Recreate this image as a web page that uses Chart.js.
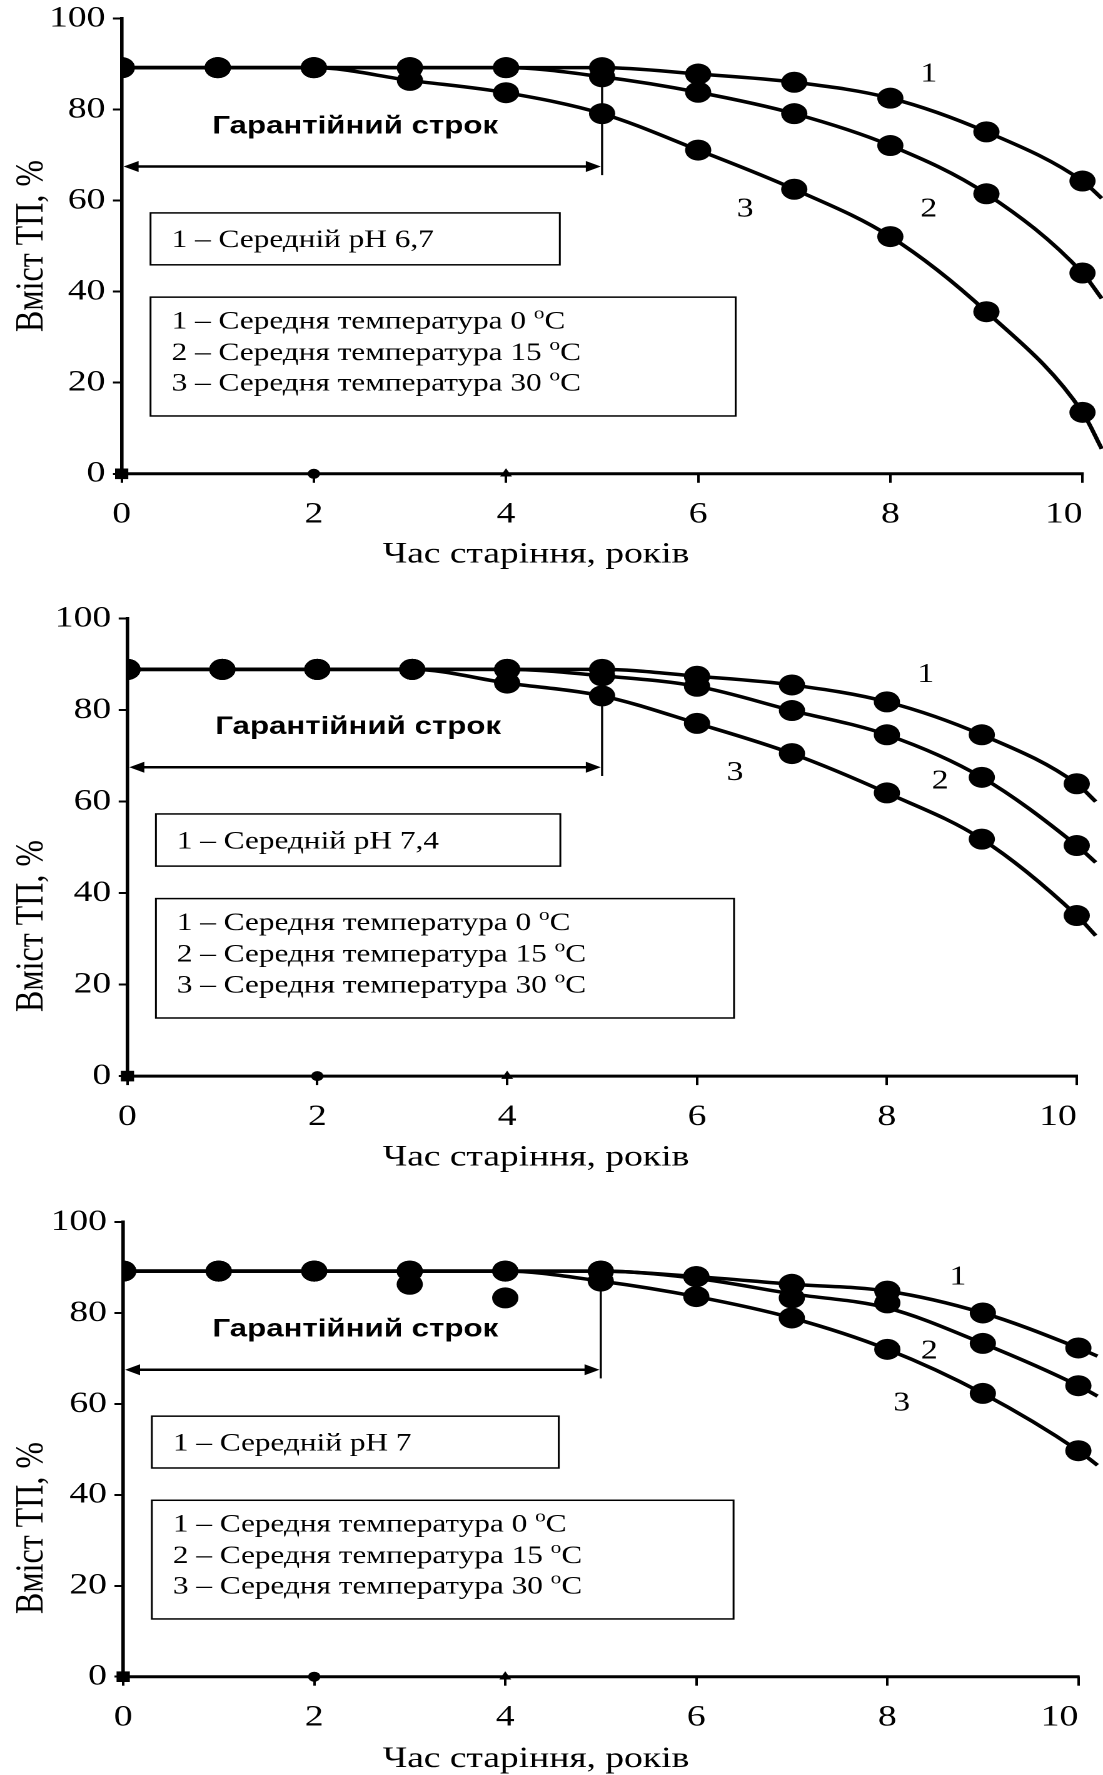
<!DOCTYPE html>
<html lang="uk">
<head>
<meta charset="utf-8">
<title>Вміст ТП залежно від часу старіння</title>
<script src="https://cdn.jsdelivr.net/npm/chart.js@4.4.1/dist/chart.umd.min.js"></script>
<style>
  html, body { margin: 0; padding: 0; background: #ffffff; }
  body { position: relative; width: 1103px; height: 1775px; overflow: hidden; }
  .panel { position: absolute; left: 0; width: 882px; transform-origin: 0 0; transform: scaleX(1.250567); }
  .panel canvas { display: block; }
</style>
</head>
<body>
<div class="panel" style="top:0px;height:600px"><canvas id="chartPh67" width="882" height="600"></canvas></div>
<div class="panel" style="top:600px;height:600px"><canvas id="chartPh74" width="882" height="600"></canvas></div>
<div class="panel" style="top:1202px;height:580px"><canvas id="chartPh7" width="882" height="580"></canvas></div>
<script>
// Storage time, years
const years = [0, 1, 2, 3, 4, 5, 6, 7, 8, 9, 10];
// Points along the fitted curves (the last one runs just past year 10)
const curveYears = [0, 1, 2, 3, 4, 5, 6, 7, 8, 9, 10, 10.2];

const xTicks = [0, 2, 4, 6, 8, 10];
const yTicks = [0, 20, 40, 60, 80, 100];
const xTitle = 'Час старіння, років';
const yTitle = 'Вміст ТП, %';
const periodLabel = 'Гарантійний строк';
const periodYears = 5;
const tempLevels = [0, 15, 30];
const curveNames = ['1', '2', '3'];
const phLevels = ['6,7', '7,4', '7'];
// small axis markers sitting on the zero line
const zeroMarkYears = [0, 2, 4];

// ---- pH 6,7 ----
const ph67_t0  = [89.2, 89.2, 89.2, 89.2, 89.2, 89.2, 87.8, 86.0, 82.5, 75.1, 64.3];
const ph67_t15 = [89.2, 89.2, 89.2, 89.2, 89.2, 87.2, 83.8, 79.1, 72.1, 61.5, 44.1];
const ph67_t30 = [89.2, 89.2, 89.2, 86.4, 83.7, 79.1, 71.1, 62.5, 52.1, 35.6, 13.5];
const ph67_fit0  = [89.2, 89.2, 89.2, 89.2, 89.2, 89.2, 87.8, 86.0, 82.5, 75.1, 64.3, 60.5];
const ph67_fit15 = [89.2, 89.2, 89.2, 89.2, 89.2, 87.2, 83.8, 79.1, 72.1, 61.5, 44.1, 38.5];
const ph67_fit30 = [89.2, 89.2, 89.2, 86.4, 83.7, 79.1, 71.1, 62.5, 52.1, 35.6, 13.5, 5.5];

// ---- pH 7,4 ----
const ph74_t0  = [88.9, 88.9, 88.9, 88.9, 88.9, 88.9, 87.4, 85.5, 81.8, 74.6, 63.9];
const ph74_t15 = [88.9, 88.9, 88.9, 88.9, 88.9, 87.5, 85.2, 79.9, 74.6, 65.3, 50.4];
const ph74_t30 = [88.9, 88.9, 88.9, 88.9, 85.9, 83.1, 77.1, 70.5, 61.9, 51.8, 35.1];
const ph74_fit0  = [88.9, 88.9, 88.9, 88.9, 88.9, 88.9, 87.4, 85.5, 81.8, 74.6, 63.9, 60.0];
const ph74_fit15 = [88.9, 88.9, 88.9, 88.9, 88.9, 87.5, 85.2, 79.9, 74.6, 65.3, 50.4, 46.7];
const ph74_fit30 = [88.9, 88.9, 88.9, 88.9, 85.9, 83.1, 77.1, 70.5, 61.9, 51.8, 35.1, 30.7];

// ---- pH 7 ----
const ph7_t0  = [89.2, 89.2, 89.2, 89.2, 89.2, 89.2, 88.0, 86.3, 84.8, 80.0, 72.3];
const ph7_t15 = [89.2, 89.2, 89.2, 89.2, 89.2, 89.2, 88.0, 83.3, 82.2, 73.3, 64.0];
const ph7_t30 = [89.2, 89.2, 89.2, 86.3, 83.3, 87.0, 83.6, 78.9, 72.0, 62.3, 49.7];
const ph7_fit0  = [89.2, 89.2, 89.2, 89.2, 89.2, 89.2, 88.0, 86.3, 84.8, 80.0, 72.3, 70.5];
const ph7_fit15 = [89.2, 89.2, 89.2, 89.2, 89.2, 89.2, 87.6, 84.2, 81.1, 73.3, 64.0, 61.7];
const ph7_fit30 = [89.2, 89.2, 89.2, 89.2, 89.2, 87.0, 83.6, 78.9, 72.0, 62.3, 49.7, 46.5];

const SERIF = "'Liberation Serif', 'Times New Roman', serif";
const SANS = "'Liberation Sans', Arial, sans-serif";
Chart.defaults.font.family = SERIF;
Chart.defaults.color = '#000';

const W = 882;          // logical canvas width (stretched to the page width by CSS)
const TICK_FONT = 30;
const XTITLE_FONT = 30;
const YTITLE_FONT = 32;

const panels = [
  { canvas: 'chartPh67', H: 600, x0: 97.3, x10: 865.6, y100: 18.5, y0: 473.8, xTitleY: 554.5, yTitleY: 246,
    ph: phLevels[0], series: [ph67_t0, ph67_t15, ph67_t30], fits: [ph67_fit0, ph67_fit15, ph67_fit30],
    numPos: [[8.40, 87.7], [8.40, 58.1], [6.49, 58.1]] },
  { canvas: 'chartPh74', H: 600, x0: 101.9, x10: 861.0, y100: 18.6, y0: 476.1, xTitleY: 557.4, yTitleY: 326,
    ph: phLevels[1], series: [ph74_t0, ph74_t15, ph74_t30], fits: [ph74_fit0, ph74_fit15, ph74_fit30],
    numPos: [[8.41, 87.7], [8.56, 64.4], [6.40, 66.3]] },
  { canvas: 'chartPh7', H: 580, x0: 98.5, x10: 862.3, y100: 20, y0: 474.7, xTitleY: 557, yTitleY: 326,
    ph: phLevels[2], series: [ph7_t0, ph7_t15, ph7_t30], fits: [ph7_fit0, ph7_fit15, ph7_fit30],
    numPos: [[8.74, 87.8], [8.44, 71.5], [8.15, 60.1]] }
];

function toPoints(xs, ys) { return ys.map((y, i) => ({ x: xs[i], y })); }

function arrowHead(ctx, tipX, tipY, dir) {
  ctx.beginPath();
  ctx.moveTo(tipX, tipY);
  ctx.lineTo(tipX + dir * 12, tipY - 5.5);
  ctx.lineTo(tipX + dir * 12, tipY + 5.5);
  ctx.closePath();
  ctx.fill();
}

// legend line with a raised "o" before C
function drawTempLine(ctx, x, yMid, name, temp) {
  const size = 25;
  const base = yMid + size * 0.33;
  ctx.textBaseline = 'alphabetic';
  ctx.textAlign = 'left';
  ctx.font = `${size}px ${SERIF}`;
  const main = `${name} – Середня температура ${temp} `;
  ctx.fillText(main, x, base);
  let cx = x + ctx.measureText(main).width;
  ctx.font = `17px ${SERIF}`;
  ctx.fillText('o', cx, base - size * 0.4);
  cx += ctx.measureText('o').width;
  ctx.font = `${size}px ${SERIF}`;
  ctx.fillText('C', cx, base);
}

function makeDecor(P) {
  return {
    id: 'decor',
    beforeDatasetsDraw(chart) {
      const { ctx, scales: { x, y } } = chart;
      const px = v => x.getPixelForValue(v);
      const py = v => y.getPixelForValue(v);
      ctx.save();
      ctx.strokeStyle = '#000';
      ctx.fillStyle = '#000';
      // horizontal axis line, origin to year 10
      ctx.lineWidth = 3;
      ctx.beginPath();
      ctx.moveTo(px(0), py(0));
      ctx.lineTo(px(xTicks[xTicks.length - 1]) + 1, py(0));
      ctx.stroke();
      // guarantee period arrow
      const ay = py(67.5), ax0 = px(0) + 1.5, ax1 = px(periodYears) - 1;
      ctx.lineWidth = 2.5;
      ctx.beginPath();
      ctx.moveTo(ax0 + 6, ay);
      ctx.lineTo(ax1 - 6, ay);
      ctx.stroke();
      arrowHead(ctx, ax0, ay, 1);
      arrowHead(ctx, ax1, ay, -1);
      ctx.lineWidth = 1.7;
      ctx.beginPath();
      ctx.moveTo(px(periodYears), py(88));
      ctx.lineTo(px(periodYears), py(65.6));
      ctx.stroke();
      // legend boxes
      ctx.lineWidth = 1.5;
      ctx.strokeRect(px(0.30), py(57.3), px(4.56) - px(0.30), py(45.9) - py(57.3));
      ctx.strokeRect(px(0.30), py(38.8), px(6.39) - px(0.30), py(12.7) - py(38.8));
      ctx.restore();
    },
    afterDatasetsDraw(chart) {
      const { ctx, scales: { x, y } } = chart;
      const px = v => x.getPixelForValue(v);
      const py = v => y.getPixelForValue(v);
      ctx.save();
      ctx.fillStyle = '#000';
      // period caption
      ctx.font = `bold 25px ${SANS}`;
      ctx.textAlign = 'center';
      ctx.textBaseline = 'middle';
      ctx.fillText(periodLabel, px(2.43), py(76.3));
      // curve numbers
      ctx.font = `27px ${SERIF}`;
      P.numPos.forEach((p, i) => ctx.fillText(curveNames[i], px(p[0]), py(p[1])));
      // axis titles
      ctx.font = `${XTITLE_FONT}px ${SERIF}`;
      ctx.fillText(xTitle, 428.6, P.xTitleY);
      ctx.save();
      ctx.translate(25.6, P.yTitleY);
      ctx.rotate(-Math.PI / 2);
      ctx.font = `${YTITLE_FONT}px ${SERIF}`;
      ctx.fillText(yTitle, 0, 0);
      ctx.restore();
      // pH box
      ctx.font = `25px ${SERIF}`;
      ctx.textAlign = 'left';
      ctx.textBaseline = 'alphabetic';
      ctx.fillText(`1 – Середній pH ${P.ph}`, px(0.52), py(51.6) + 25 * 0.33);
      // temperature box
      const rows = [33.7, 26.8, 20.1];
      tempLevels.forEach((t, i) => drawTempLine(ctx, px(0.52), py(rows[i]), curveNames[i], t));
      ctx.restore();
    }
  };
}

function buildPanel(P) {
  const unit = (P.x10 - P.x0) / 10;
  const xMax = (W - P.x0) / unit;
  const markerSets = P.series.map(vals => ({
    type: 'scatter',
    data: toPoints(years, vals),
    pointRadius: 10.5,
    pointHoverRadius: 10.5,
    pointBackgroundColor: '#000',
    pointBorderWidth: 0,
    showLine: false,
    order: 0
  }));
  const curveSets = P.fits.map(vals => ({
    type: 'scatter',
    data: toPoints(curveYears, vals),
    showLine: true,
    borderColor: '#000',
    borderWidth: 3.5,
    pointRadius: 0,
    pointHoverRadius: 0,
    cubicInterpolationMode: 'monotone',
    fill: false,
    order: 1
  }));
  const zeroMarks = {
    type: 'scatter',
    data: zeroMarkYears.map(v => ({ x: v, y: 0 })),
    pointStyle: ['rect', 'circle', 'triangle'],
    pointRadius: [7.5, 5, 5.5],
    pointBackgroundColor: '#000',
    pointBorderWidth: 0,
    showLine: false,
    clip: false,
    order: 0
  };

  new Chart(document.getElementById(P.canvas), {
    type: 'scatter',
    data: { datasets: [zeroMarks, ...markerSets, ...curveSets] },
    options: {
      responsive: false,
      animation: false,
      devicePixelRatio: 2,
      events: [],
      layout: { autoPadding: false, padding: { left: 0, right: 0, top: P.y100, bottom: 0 } },
      plugins: { legend: { display: false }, tooltip: { enabled: false } },
      scales: {
        x: {
          type: 'linear', min: 0, max: xMax,
          border: { display: false },
          grid: { drawOnChartArea: false, drawTicks: true, tickLength: 9, color: '#000', lineWidth: 2 },
          afterBuildTicks: s => { s.ticks = xTicks.map(v => ({ value: v })); },
          ticks: {
            autoSkip: false, maxRotation: 0, padding: 14, color: '#000',
            font: { size: TICK_FONT },
            callback: v => (v === 10 ? '10    ' : String(v))
          },
          title: { display: false },
          afterFit: s => { s.height = P.H - P.y0; s.paddingLeft = 0; s.paddingRight = 0; }
        },
        y: {
          type: 'linear', min: 0, max: 100,
          border: { display: true, color: '#000', width: 2.8 },
          grid: { drawOnChartArea: false, drawTicks: true, tickLength: 7, color: '#000', lineWidth: 2 },
          afterBuildTicks: s => { s.ticks = yTicks.map(v => ({ value: v })); },
          ticks: { padding: 6, color: '#000', font: { size: TICK_FONT } },
          title: { display: false },
          afterFit: s => { s.width = P.x0; s.paddingTop = 0; s.paddingBottom = 0; }
        }
      }
    },
    plugins: [makeDecor(P)]
  });
}

panels.forEach(buildPanel);
</script>
</body>
</html>
